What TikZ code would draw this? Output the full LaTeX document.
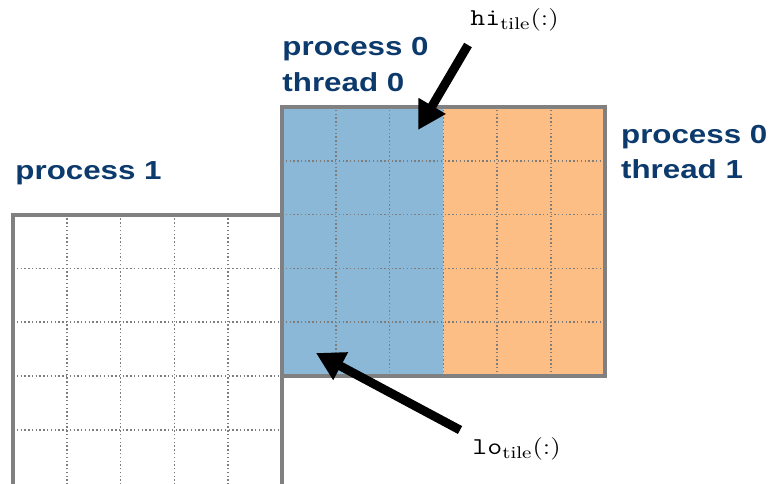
\documentclass[tikz,border=0pt]{standalone}
\usepackage{fontspec}
\newfontfamily\labelfont{Liberation Sans}
\usetikzlibrary{arrows.meta}
\definecolor{blockblue}{RGB}{140,184,216}
\definecolor{blockorange}{RGB}{253,190,133}
\definecolor{labelblue}{RGB}{12,58,108}
\definecolor{framegray}{RGB}{128,128,128}
\definecolor{gridgray}{RGB}{125,125,125}
\tikzset{
  frameline/.style={draw=framegray, line width=2.1pt},
  gridline/.style={draw=gridgray, line width=0.85pt, dash pattern=on 0.75pt off 1.25pt},
  bigarrow/.style={line width=4.7pt, -{Triangle[length=0.52cm,width=0.55cm]}},
  proclabel/.style={font=\labelfont\bfseries\fontsize{13.8}{18.7}\selectfont, text=labelblue, align=left, anchor=base west, inner sep=0pt, xscale=1.2},
  tilelabel/.style={font=\fontsize{12.8}{15}\selectfont, anchor=base west, inner sep=0pt, xscale=1.2},
}
\begin{document}
\begin{tikzpicture}
\clip (-0.2416,-1.989) rectangle (14.052,6.989);
% fills
\fill[blockblue] (5,0) rectangle (8,5);
\fill[blockorange] (8,0) rectangle (11,5);
% grids
\foreach \x in {1,...,4} \draw[gridline] (\x,-2.3) -- (\x,3);
\foreach \y in {-1,...,2} \draw[gridline] (0,\y) -- (5,\y);
\foreach \x in {6,...,10} \draw[gridline] (\x,0) -- (\x,5);
\foreach \y in {1,...,4} \draw[gridline] (5,\y) -- (11,\y);
% frames
\draw[frameline] (0,-2.3) -- (0,3) -- (5,3) -- (5,-2.3);
\draw[frameline] (5,0) rectangle (11,5);
% labels (base anchor = baseline of the last line)
\node[proclabel] (p0t0) at (5.0,5.297) {process 0\\thread 0};
\node[proclabel] (p0t1) at (11.295,3.662) {process 0\\thread 1};
\node[proclabel] (p1) at (0.037,3.656) {process 1};
\node[tilelabel] (hi) at (8.494,6.506) {$\texttt{hi}_{\mathrm{tile}}(:)$};
\node[tilelabel] (lo) at (8.532,-1.468) {$\texttt{lo}_{\mathrm{tile}}(:)$};
% arrows
\coordinate (hitail) at (8.457,6.152);
\coordinate (hitip) at (7.528,4.572);
\coordinate (lotail) at (8.309,-1.004);
\coordinate (lotip) at (5.632,0.4275);
\draw[bigarrow] (hitail) -- (hitip);
\draw[bigarrow] (lotail) -- (lotip);
\end{tikzpicture}
\end{document}
